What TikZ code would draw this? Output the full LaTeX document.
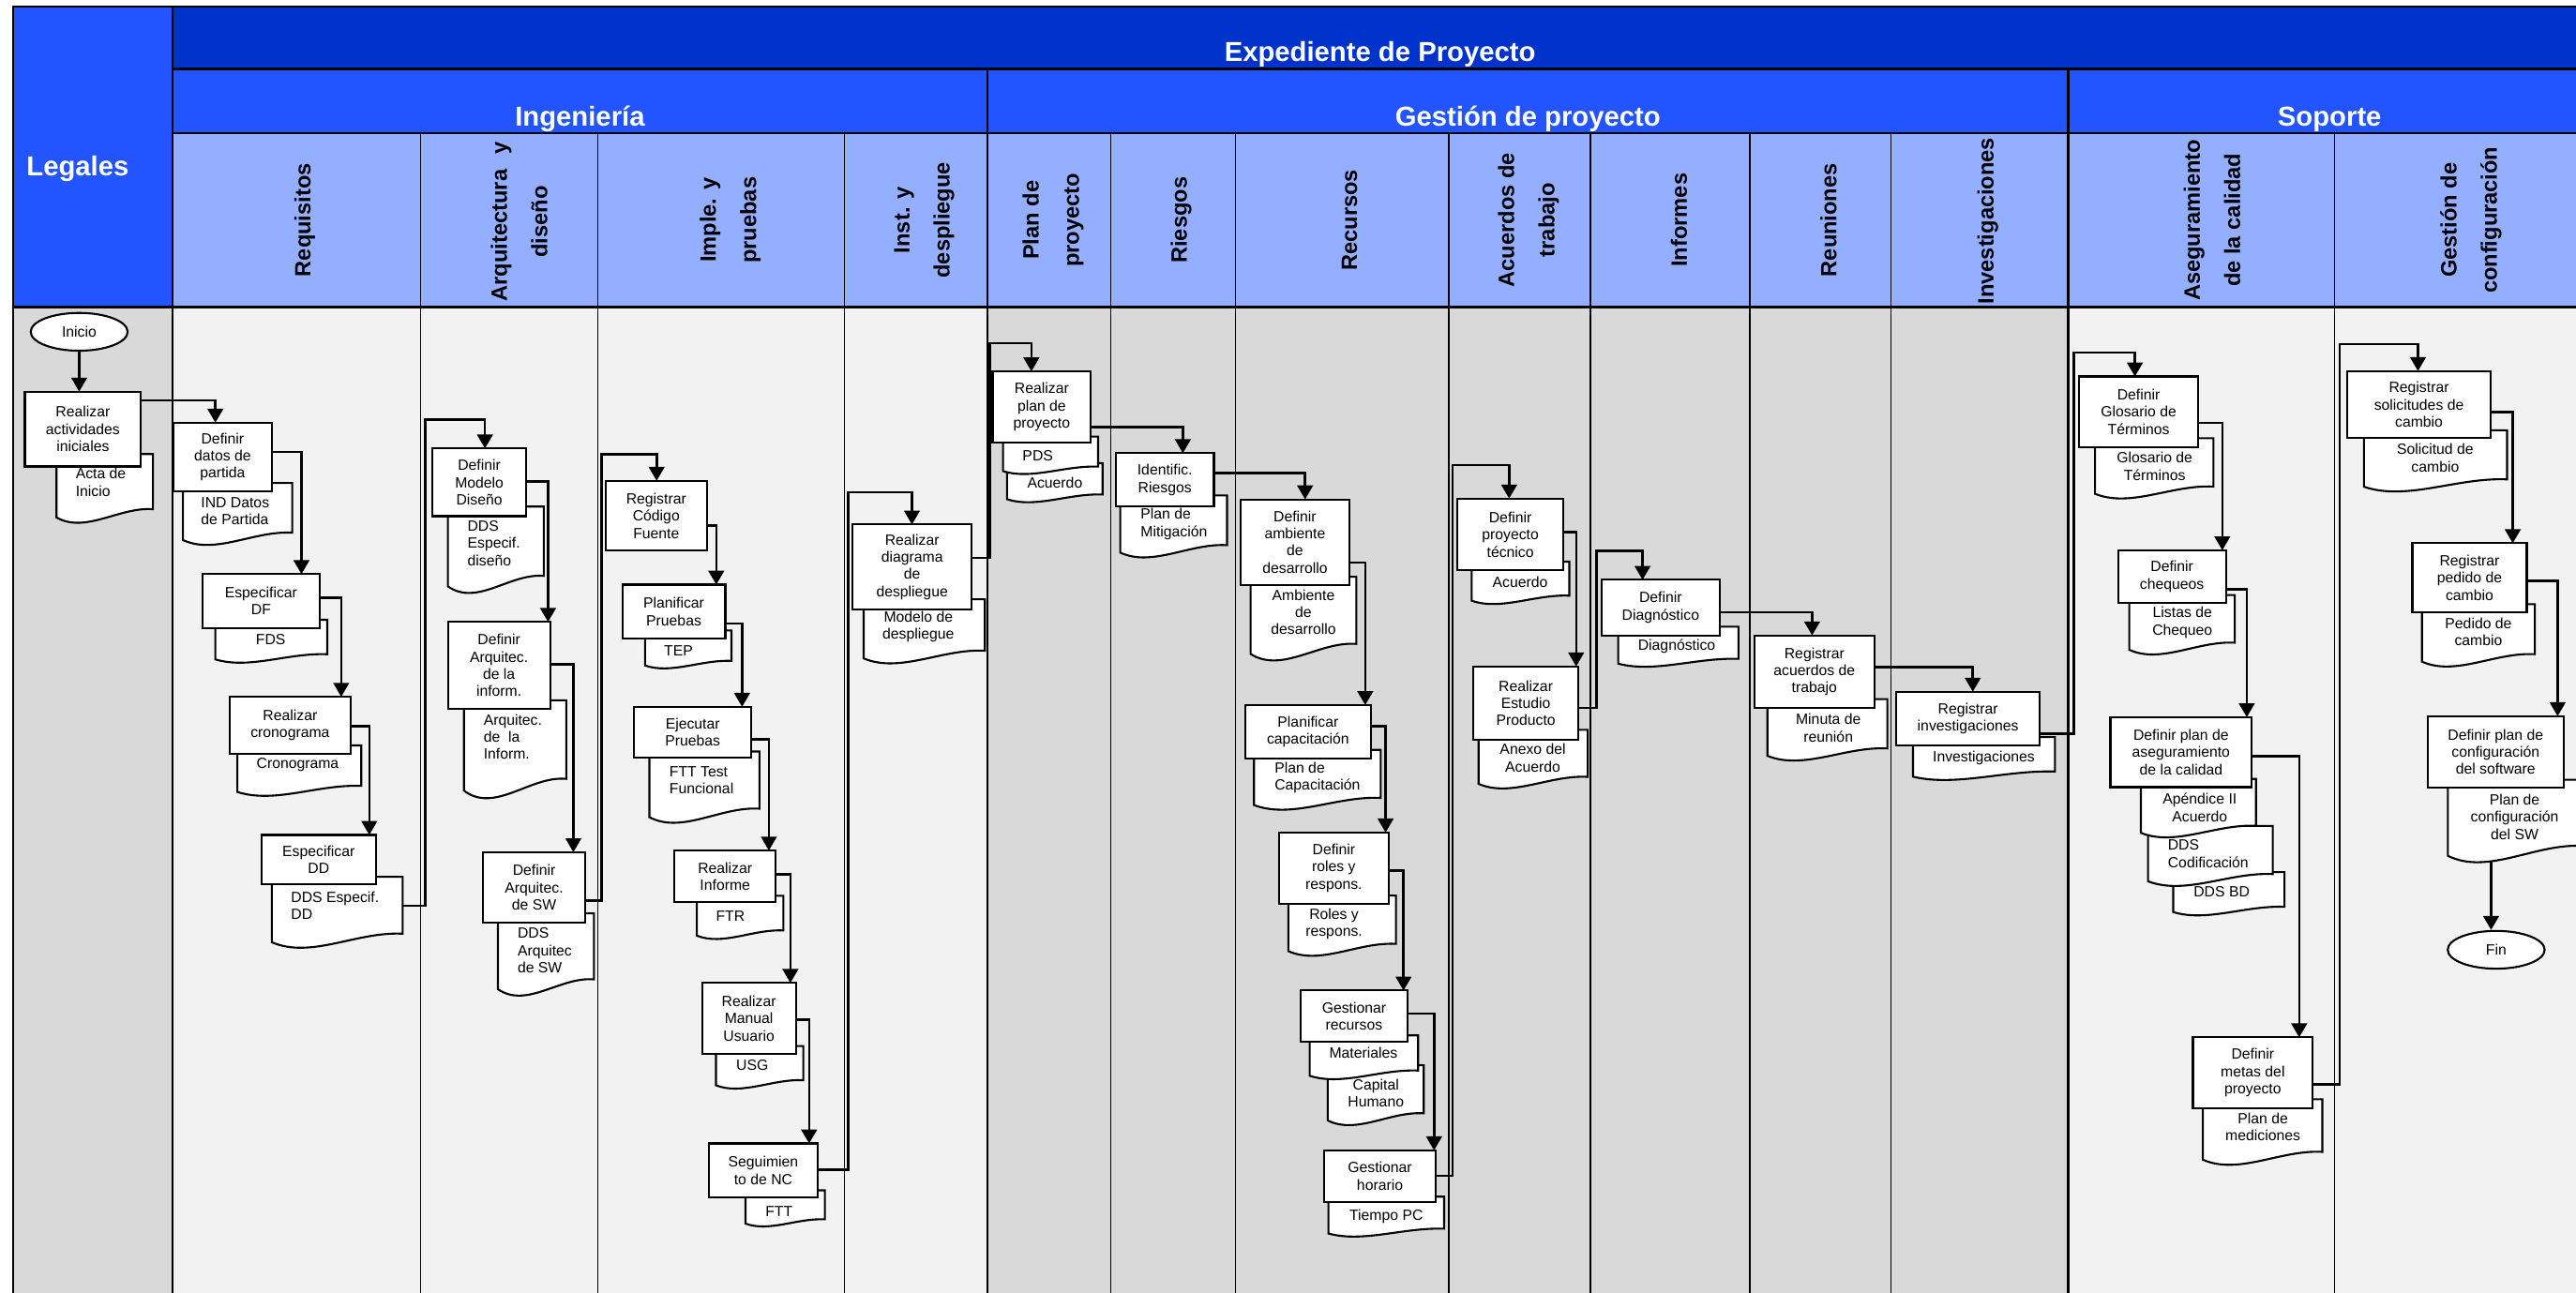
\documentclass[tikz,border=0pt]{standalone}
\usepackage{fontspec}
\setmainfont{Liberation Sans}
\usetikzlibrary{arrows.meta,shapes.geometric}

\definecolor{hdrdark}{RGB}{0,51,204}
\definecolor{hdrmid}{RGB}{34,85,255}
\definecolor{hdrlight}{RGB}{148,175,255}
\definecolor{lanelight}{RGB}{242,242,242}
\definecolor{lanedark}{RGB}{217,217,217}

\pgfdeclarelayer{lanes}
\pgfdeclarelayer{wires}
\pgfsetlayers{lanes,wires,main}

\tikzset{
  boxfont/.style={font=\fontsize{9}{10.5}\selectfont},
  procbox/.style={draw, line width=1.2pt, fill=white, inner sep=0pt, outer sep=0pt, align=center, boxfont},
  docline/.style={draw, line width=1.2pt, fill=white},
  docframe/.style={inner sep=0pt, outer sep=0pt},
  doctext/.style={inner sep=0pt, boxfont},
  dl/.style={anchor=west, align=left},
  dc/.style={anchor=center, align=center},
  flow/.style={line width=1.45pt, -{Triangle[width=9.5pt,length=8.5pt]}},
  term/.style={draw, ellipse, line width=1.2pt, fill=white, inner sep=0pt, boxfont},
  lanehead/.style={rotate=90, align=center, inner sep=0pt, font=\bfseries\fontsize{13.5}{24.5}\selectfont},
  grouptitle/.style={text=white, anchor=base, inner sep=0pt, font=\bfseries\fontsize{16.7}{20}\selectfont},
  frameline/.style={line width=1.4pt},
  laneline/.style={line width=0.9pt},
}

% process step: name, x1, y1, x2, y2, text
\newcommand\procstep[6]{%
  \node[procbox, minimum width={#4-#2}, minimum height={#5-#3}] (#1) at ({(#2+#4)/2},{(#3+#5)/2}) {#6};}

% document sheet: name, x1, ytop, x2, ybottom(left), text x, text y, alignment style, text
\newcommand\docsheet[9]{%
  \pgfmathsetmacro\wavek{0.13*(#5-#3)}%
  \pgfmathsetmacro\wavew{#4-#2}%
  \path[docline] (#2,#3) -- (#4,#3) -- (#4,#5-\wavek)
     .. controls (#2+0.65*\wavew,#5-1.3*\wavek) and (#2+0.3*\wavew,#5+2*\wavek) .. (#2,#5) -- cycle;
  \node[docframe, minimum width={#4-#2}, minimum height={#5-#3}] (#1) at ({(#2+#4)/2},{(#3+#5)/2}) {};
  \node[doctext,#8] (#1-t) at (#6,#7) {#9};}

\begin{document}
\begin{tikzpicture}[x=1pt,y=-1pt]
\useasboundingbox (0,0) rectangle (1568,787);

\begin{pgfonlayer}{lanes}
  \fill[white] (0,0) rectangle (1568,787);
  % header bands
  \fill[hdrmid] (8,4) rectangle (105,187);
  \fill[hdrdark] (105,4) rectangle (1576,42);
  \fill[hdrmid] (105,42) rectangle (1576,81);
  \fill[hdrlight] (105,81) rectangle (1576,187);
  % swimlane bodies
  \fill[lanedark] (8,187) rectangle (105,800);
  \fill[lanelight] (105,187) rectangle (601,800);
  \fill[lanedark] (601,187) rectangle (1259,800);
  \fill[lanelight] (1259,187) rectangle (1576,800);
  % lane separators
  \foreach \x in {256,364,514,676,752,882,968,1065,1151,1421}
    \draw[laneline] (\x,81) -- (\x,800);
  \draw[frameline] (601,42) -- (601,800);
  \draw[frameline] (1259,42) -- (1259,800);
  \draw[frameline] (105,4) -- (105,800);
  \draw[frameline] (105,42) -- (1576,42);
  \draw[frameline] (105,81) -- (1576,81);
  \draw[frameline] (8,187) -- (1576,187);
  \draw[frameline] (8,800) -- (8,4) -- (1576,4) -- (1576,800);
\end{pgfonlayer}

% titles
\node[grouptitle] (tExp) at (840,37.5) {Expediente de Proyecto};
\node[grouptitle] (tIng) at (353,76.5) {Ingeniería};
\node[grouptitle] (tGes) at (930,76.5) {Gestión de proyecto};
\node[grouptitle] (tSop) at (1418,76.5) {Soporte};
\node[grouptitle, anchor=base west] (tLeg) at (16,107) {Legales};

% lane headings
\node[lanehead] (hReq) at (185.5,134) {Requisitos};
\node[lanehead] (hArq) at (316,135) {Arquitectura\hspace{9pt}y\\diseño};
\node[lanehead] (hImp) at (444.5,134) {Imple. y\\pruebas};
\node[lanehead] (hIns) at (562.6,134) {Inst. y\\despliegue};
\node[lanehead] (hPla) at (641,134) {Plan de\\proyecto};
\node[lanehead] (hRie) at (719,134) {Riesgos};
\node[lanehead] (hRec) at (821.5,134) {Recursos};
\node[lanehead] (hAcu) at (930.4,134) {Acuerdos de\\trabajo};
\node[lanehead] (hInf) at (1022,134) {Informes};
\node[lanehead] (hReu) at (1113,134) {Reuniones};
\node[lanehead] (hInv) at (1210,134.5) {Investigaciones};
\node[lanehead] (hAse) at (1346.5,134) {Aseguramiento\\de la calidad};
\node[lanehead] (hGco) at (1504,134) {Gestión de\\configuración};

% documents
\docsheet{dActa}{34.4}{276.4}{93.1}{315.0}{45.9}{293.6}{dl}{Acta de\\Inicio}
\docsheet{dInd}{111.4}{294.0}{177.9}{328.8}{122.2}{311.2}{dl}{IND Datos\\de Partida}
\docsheet{dFds}{131.1}{377.3}{199.2}{401.4}{164.8}{389.6}{dc}{FDS}
\docsheet{dCrono}{144.5}{453.8}{219.9}{482.1}{181.2}{465.6}{dc}{Cronograma}
\docsheet{dDdsdd}{165.5}{533.8}{245.1}{573.6}{177.0}{551.4}{dl}{DDS Especif.\\DD}
\docsheet{dDdsdis}{272.6}{308.4}{331.0}{356.9}{284.4}{330.6}{dl}{DDS\\Especif.\\diseño}
\docsheet{dArqinf}{282.4}{426.3}{344.7}{481.3}{294.2}{448.6}{dl}{Arquitec.\\de~~la\\Inform.}
\docsheet{dArqsw}{303.1}{556.0}{361.5}{602.2}{314.9}{578.6}{dl}{DDS\\Arquitec\\de SW}
\docsheet{dTep}{392.6}{383.8}{445.2}{405.1}{413.0}{396.0}{dc}{TEP}
\docsheet{dFtt1}{395.3}{457.5}{462.3}{497.5}{407.3}{475.0}{dl}{FTT Test\\Funcional}
\docsheet{dFtr}{424.2}{545.3}{476.8}{569.6}{444.6}{557.8}{dc}{FTR}
\docsheet{dUsg}{435.8}{636.8}{489.0}{660.7}{457.9}{648.5}{dc}{USG}
\docsheet{dFtt2}{453.8}{724.6}{502.1}{744.9}{474.2}{737.7}{dc}{FTT}
\docsheet{dModelo}{525.7}{364.8}{599.5}{400.8}{559.0}{381.7}{dc}{Modelo de\\despliegue}
\docsheet{dAcu1}{613.0}{282.0}{671.1}{303.9}{642.1}{293.6}{dc}{Acuerdo}
\docsheet{dPds}{610.5}{265.8}{668.4}{286.8}{631.7}{277.2}{dc}{PDS}
\docsheet{dMitig}{681.9}{301.6}{746.9}{336.4}{694.1}{319.0}{dl}{Plan de\\Mitigación}
\docsheet{dAmb}{761.2}{351.1}{825.6}{398.1}{793.4}{372.6}{dc}{Ambiente\\de\\desarrollo}
\docsheet{dCap}{763.3}{456.5}{840.4}{490.1}{775.7}{473.5}{dl}{Plan de\\Capacitación}
\docsheet{dRoles}{784.2}{545.2}{849.7}{579.0}{812.0}{562.4}{dc}{Roles y\\respons.}
\docsheet{dCapH}{808.2}{648.5}{866.6}{682.1}{837.5}{665.6}{dc}{Capital\\Humano}
\docsheet{dMat}{797.2}{630.3}{863.2}{654.9}{829.9}{641.1}{dc}{Materiales}
\docsheet{dTiempo}{808.6}{728.5}{879.0}{750.9}{843.8}{740.6}{dc}{Tiempo PC}
\docsheet{dAcu2}{895.8}{341.9}{955.2}{365.7}{925.3}{354.3}{dc}{Acuerdo}
\docsheet{dAnexo}{900.0}{444.3}{966.4}{477.2}{933.0}{461.4}{dc}{Anexo del\\Acuerdo}
\docsheet{dDiag}{985.0}{381.5}{1058.2}{404.0}{1020.6}{393.3}{dc}{Diagnóstico}
\docsheet{dMinuta}{1075.8}{425.6}{1148.8}{460.1}{1112.9}{443.2}{dc}{Minuta de\\reunión}
\docsheet{dInv}{1164.4}{448.7}{1250.8}{472.8}{1207.5}{461.4}{dc}{Investigaciones}
\docsheet{dGlos}{1275.2}{266.8}{1347.3}{300.6}{1311.5}{283.9}{dc}{Glosario de\\Términos}
\docsheet{dListas}{1296.1}{362.2}{1360.3}{395.6}{1328.4}{378.9}{dc}{Listas de\\Chequeo}
\docsheet{dDdsBd}{1322.8}{530.9}{1390.5}{555.2}{1352.3}{543.1}{dc}{DDS BD}
\docsheet{dDdsCod}{1307.5}{502.8}{1383.4}{536.5}{1319.4}{519.8}{dl}{DDS\\Codificación}
\docsheet{dApen}{1303.1}{474.2}{1373.2}{507.0}{1339.0}{491.5}{dc}{Apéndice II\\Acuerdo}
\docsheet{dMed}{1340.9}{669.2}{1413.6}{706.0}{1377.4}{685.9}{dc}{Plan de\\mediciones}
\docsheet{dSolic}{1438.9}{261.9}{1526.0}{296.3}{1482.3}{278.8}{dc}{Solicitud de\\cambio}
\docsheet{dPedido}{1474.2}{367.8}{1542.9}{402.8}{1508.6}{384.8}{dc}{Pedido de\\cambio}
\docsheet{dConf}{1490.0}{474.7}{1572.0}{521.0}{1530.6}{497.2}{dc}{Plan de\\configuración\\del SW}

% start and end
\node[term, minimum width=59pt, minimum height=23pt] (inicio) at (48.2,202) {Inicio};
\node[term, minimum width=59pt, minimum height=23pt] (fin) at (1519.4,578.2) {Fin};

% process steps
\procstep{ini}{15.1}{238.4}{85.8}{284.0}{Realizar\\actividades\\iniciales}
\procstep{datos}{105.5}{257.3}{165.5}{299.2}{Definir\\datos de\\partida}
\procstep{espdf}{123.2}{349.5}{194.6}{382.3}{Especificar\\DF}
\procstep{crono}{139.9}{424.2}{213.3}{458.8}{Realizar\\cronograma}
\procstep{espdd}{159.2}{508.3}{228.7}{538.5}{Especificar\\DD}
\procstep{modelo}{263.1}{273.0}{320.4}{314.2}{Definir\\Modelo\\Diseño}
\procstep{arqinf}{272.6}{378.6}{334.9}{431.6}{Definir\\Arquitec.\\de la\\inform.}
\procstep{arqsw}{294.0}{518.8}{356.2}{561.6}{Definir\\Arquitec.\\de SW}
\procstep{codigo}{368.6}{292.7}{430.3}{335.3}{Registrar\\Código\\Fuente}
\procstep{planpr}{378.8}{355.9}{441.5}{388.7}{Planificar\\Pruebas}
\procstep{ejec}{386.1}{430.3}{457.2}{461.4}{Ejecutar\\Pruebas}
\procstep{inform}{410.4}{517.8}{472.3}{549.3}{Realizar\\Informe}
\procstep{manual}{427.3}{598.4}{484.4}{641.7}{Realizar\\Manual\\Usuario}
\procstep{segnc}{431.4}{696.1}{497.8}{728.8}{Seguimien\\to de NC}
\procstep{despl}{519.0}{319.3}{591.4}{371.0}{Realizar\\diagrama\\de\\despliegue}
\procstep{plan}{604.2}{226.1}{664.0}{269.6}{Realizar\\plan de\\proyecto}
\procstep{riesgos}{679.2}{275.9}{738.9}{308.3}{Identific.\\Riesgos}
\procstep{ambiente}{755.0}{304.0}{821.5}{356.0}{Definir\\ambiente\\de\\desarrollo}
\procstep{capac}{758.0}{429.2}{834.4}{462.0}{Planificar\\capacitación}
\procstep{roles}{778.5}{506.8}{845.3}{550.0}{Definir\\roles y\\respons.}
\procstep{recursos}{791.5}{603.0}{856.9}{634.1}{Gestionar\\recursos}
\procstep{horario}{806.1}{700.3}{873.8}{731.7}{Gestionar\\horario}
\procstep{tecnico}{887.2}{303.5}{951.5}{347.2}{Definir\\proyecto\\técnico}
\procstep{estudio}{896.8}{405.7}{960.7}{450.4}{Realizar\\Estudio\\Producto}
\procstep{diag}{975.0}{353.0}{1046.6}{386.8}{Definir\\Diagnóstico}
\procstep{acuerdos}{1067.9}{386.8}{1140.9}{431.0}{Registrar\\acuerdos de\\trabajo}
\procstep{invest}{1154.2}{421.1}{1241.6}{453.8}{Registrar\\investigaciones}
\procstep{glosario}{1265.7}{229.2}{1337.8}{272.1}{Definir\\Glosario de\\Términos}
\procstep{chequeos}{1289.2}{335.0}{1354.9}{367.1}{Definir\\chequeos}
\procstep{aseg}{1284.6}{436.6}{1370.6}{479.2}{Definir plan de\\aseguramiento\\de la calidad}
\procstep{metas}{1334.8}{631.5}{1407.7}{674.8}{Definir\\metas del\\proyecto}
\procstep{solic}{1428.6}{225.9}{1516.2}{266.8}{Registrar\\solicitudes de\\cambio}
\procstep{pedido}{1468.4}{330.7}{1538.0}{372.7}{Registrar\\pedido de\\cambio}
\procstep{config}{1477.6}{436.0}{1560.5}{479.3}{Definir plan de\\configuración\\del software}

% flow connectors
\begin{pgfonlayer}{wires}
  \draw[flow] (inicio.south) -- (ini.north -| inicio.south);
  \draw[flow] (ini.east |- 0,243.7) -| (datos.north -| 131.1,0);
  \draw[flow] (datos.east |- 0,275.1) -| (espdf.north -| 183.5,0);
  \draw[flow] (espdf.east |- 0,364) -| (crono.north -| 207.7,0);
  \draw[flow] (crono.east |- 0,442) -| (espdd.north -| 224.8,0);
  \draw[flow] (dDdsdd.east |- 0,551.5) -- (258.8,551.5) |- (295.2,255.4) -- (modelo.north -| 295.2,0);
  \draw[flow] (modelo.east |- 0,293.2) -| (arqinf.north -| 333.6,0);
  \draw[flow] (arqinf.east |- 0,404.3) -| (arqsw.north -| 349,0);
  \draw[flow] (arqsw.east |- 0,548.2) -- (366.2,548.2) |- (399.7,276.4) -- (codigo.north -| 399.7,0);
  \draw[flow] (codigo.east |- 0,319.9) -| (planpr.north -| 436,0);
  \draw[flow] (planpr.east |- 0,379.5) -| (ejec.north -| 451.7,0);
  \draw[flow] (ejec.east |- 0,450) -| (inform.north -| 468,0);
  \draw[flow] (inform.east |- 0,532.2) -| (manual.north -| 481.1,0);
  \draw[flow] (manual.east |- 0,620.7) -| (segnc.north -| 492.5,0);
  \draw[flow] (segnc.east |- 0,712.1) -- (516.3,712.1) |- (555.1,299.6) -- (despl.north -| 555.1,0);
  \draw[flow] (despl.east |- 0,339.6) -- (602.6,339.6) |- (627.8,208.9) -- (plan.north -| 627.8,0);
  \draw[flow] (plan.east |- 0,260.1) -| (riesgos.north -| 720,0);
  \draw[flow] (riesgos.east |- 0,287.9) -| (ambiente.north -| 794.4,0);
  \draw[flow] (ambiente.east |- 0,342.6) -| (capac.north -| 831,0);
  \draw[flow] (capac.east |- 0,442.1) -| (roles.north -| 843.4,0);
  \draw[flow] (roles.east |- 0,530.1) -| (recursos.north -| 854.3,0);
  \draw[flow] (recursos.east |- 0,617.1) -| (horario.north -| 872.9,0);
  \draw[flow] (horario.east |- 0,715.7) -- (884.2,715.7) |- (918.6,283.1) -- (tecnico.north -| 918.6,0);
  \draw[flow] (tecnico.east |- 0,323.8) -| (estudio.north -| 959.4,0);
  \draw[flow] (estudio.east |- 0,431) -- (971.8,431) |- (999.8,335.3) -- (diag.north -| 999.8,0);
  \draw[flow] (diag.east |- 0,372.6) -| (acuerdos.north -| 1103,0);
  \draw[flow] (acuerdos.east |- 0,406.2) -| (invest.north -| 1200.8,0);
  \draw[flow] (invest.east |- 0,446.8) -- (1262.2,446.8) |- (1299.5,214.7) -- (glosario.north -| 1299.5,0);
  \draw[flow] (glosario.east |- 0,257.3) -| (chequeos.north -| 1352.7,0);
  \draw[flow] (chequeos.east |- 0,358.6) -| (aseg.north -| 1367.6,0);
  \draw[flow] (aseg.east |- 0,460.2) -| (metas.north -| 1399.5,0);
  \draw[flow] (metas.east |- 0,660.1) -- (1424.2,660.1) |- (1471.8,209.5) -- (solic.north -| 1471.8,0);
  \draw[flow] (solic.east |- 0,250.8) -| (pedido.north -| 1529.5,0);
  \draw[flow] (pedido.east |- 0,353.7) -| (config.north -| 1556.8,0);
  \draw[flow] (dConf.south -| 1516.3,0) -- (fin.north -| 1516.3,0);
\end{pgfonlayer}
\end{tikzpicture}
\end{document}
